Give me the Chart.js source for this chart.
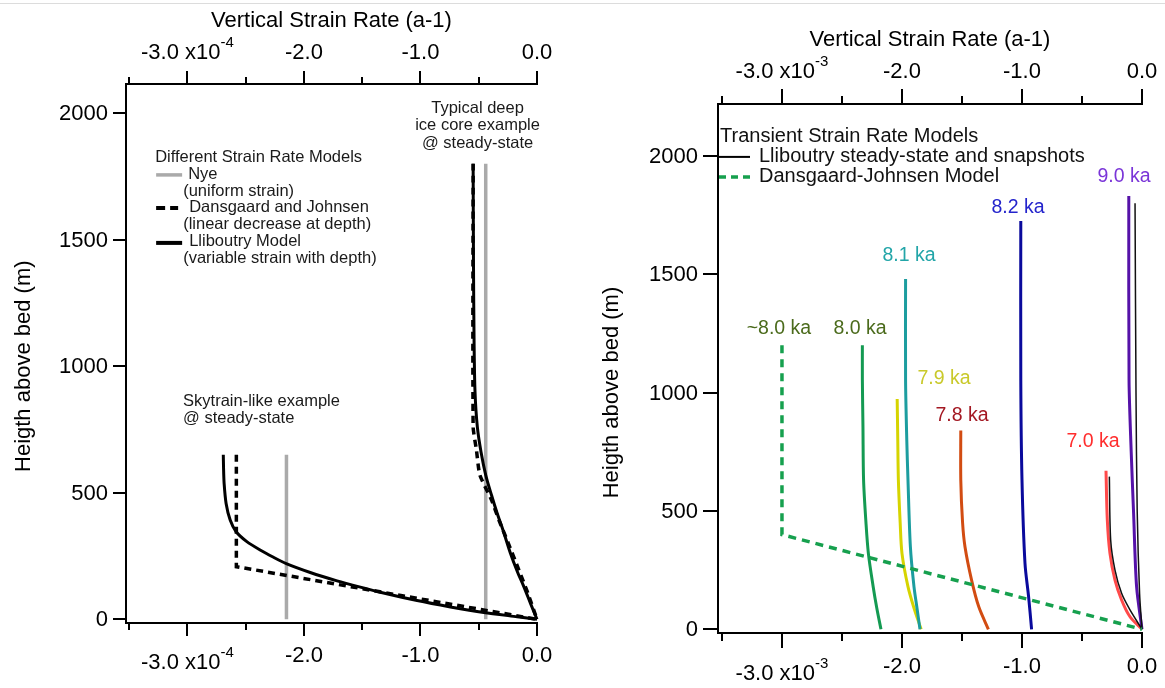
<!DOCTYPE html>
<html>
<head>
<meta charset="utf-8">
<script src="https://cdn.jsdelivr.net/npm/chart.js@4.4.0/dist/chart.umd.min.js"></script>
<style>
  html, body { margin: 0; padding: 0; background: #fff; }
  #wrap { position: relative; width: 1165px; height: 688px; overflow: hidden; }
  #topRule { position: absolute; left: 0; top: 3px; width: 1165px; height: 1px; background: #dcdcdc; }
  canvas { position: absolute; top: 0; }
  #leftChart { left: 0; }
  #rightChart { left: 580px; }
</style>
</head>
<body>
<div id="wrap">
  <div id="topRule"></div>
  <canvas id="leftChart" width="580" height="688"></canvas>
  <canvas id="rightChart" width="585" height="688"></canvas>
</div>
<script>
const FONT = "'Liberation Sans', Arial, Helvetica, sans-serif";

// ---- axes (shared) ----
const strainTicks = [-3.5, -3, -2.5, -2, -1.5, -1, -0.5, 0];
const strainTickLabels = ['', '-3.0', '', '-2.0', '', '-1.0', '', '0.0'];
const heightTicks = [0, 500, 1000, 1500, 2000];
const heightTickLabels = ['0', '500', '1000', '1500', '2000'];
const xTitle = 'Vertical Strain Rate (a-1)';
const yTitle = 'Heigth above bed (m)';

// ---- left panel: steady-state models (x10^-4 a-1) ----
const nyeSkyStrain = [-2.15, -2.15];
const nyeSkyHeight = [0, 650];
const nyeDeepStrain = [-0.44, -0.44];
const nyeDeepHeight = [0, 1800];

const djSkyStrain = [-2.58, -2.58, 0];
const djSkyHeight = [650, 208, 0];
const djDeepStrain = [-0.548, -0.548, -0.52, -0.49, -0.39, -0.325, -0.25, -0.16, -0.08, 0];
const djDeepHeight = [1800, 760, 670, 570, 471, 390, 305, 200, 105, 0];

const llibSkyStrain = [-2.692, -2.69, -2.685, -2.668, -2.633, -2.582, -2.49, -2.376, -2.261, -2.152, -1.946, -1.716, -1.516, -1.345, -1.029, -0.743, -0.457, -0.17, 0];
const llibSkyHeight = [650, 600, 537, 458, 392, 346, 307, 274, 245, 220, 185, 152, 127, 107, 74, 49, 27, 10, 0];
const llibDeepStrain = [-0.548, -0.545, -0.54, -0.532, -0.512, -0.48, -0.44, -0.39, -0.342, -0.29, -0.228, -0.17, -0.113, -0.055, 0];
const llibDeepHeight = [1800, 1400, 1100, 900, 760, 660, 570, 490, 419, 350, 261, 190, 129, 62, 0];

const leftLegendTitle = 'Different Strain Rate Models';
const leftLegendNames = ['Nye', 'Dansgaard and Johnsen', 'Lliboutry Model'];
const leftLegendNotes = ['(uniform strain)', '(linear decrease at depth)', '(variable strain with depth)'];
const deepNote = ['Typical deep', 'ice core example', '@ steady-state'];
const skyNote = ['Skytrain-like example', '@ steady-state'];

// ---- right panel: transient snapshots (x10^-3 a-1) ----
const djRightStrain = [-3.0, -3.0, 0];
const djRightHeight = [1200, 400, 0];

const steady90Strain = [-0.058, -0.05, -0.04, -0.02, 0];
const steady90Height = [1800, 1000, 500, 150, 0];
const snap90Strain = [-0.11, -0.108, -0.09, -0.07, -0.045, 0];
const snap90Height = [1830, 1053, 750, 490, 180, 0];
const snap82Strain = [-1.01, -1.01, -1.0, -0.975, -0.945, -0.92];
const snap82Height = [1725, 1053, 631, 279, 138, 0];
const snap81Strain = [-1.97, -1.97, -1.96, -1.95, -1.93, -1.90, -1.875, -1.85];
const snap81Height = [1480, 1053, 800, 631, 349, 180, 90, 0];
const snap80Strain = [-2.33, -2.33, -2.325, -2.32, -2.30, -2.28, -2.24, -2.21, -2.175];
const snap80Height = [1200, 1054, 850, 631, 450, 321, 180, 90, 0];
const snap79Strain = [-2.04, -2.035, -2.03, -2.015, -2.0, -1.95, -1.90, -1.84];
const snap79Height = [973, 800, 631, 450, 321, 180, 90, 0];
const snap78Strain = [-1.51, -1.51, -1.495, -1.475, -1.42, -1.36, -1.28];
const snap78Height = [840, 631, 450, 349, 208, 95, 0];
const snap70Strain = [-0.30, -0.289, -0.267, -0.225, -0.17, -0.10, 0];
const snap70Height = [670, 462, 321, 208, 124, 53, 0];
const steady70Strain = [-0.272, -0.261, -0.225, -0.17, -0.10, 0];
const steady70Height = [645, 377, 250, 152, 82, 0];

const snapLabels = ['9.0 ka', '8.2 ka', '8.1 ka', '~8.0 ka', '8.0 ka', '7.9 ka', '7.8 ka', '7.0 ka'];
const snapLabelStrain = [-0.15, -1.033, -1.942, -3.025, -2.35, -1.65, -1.50, -0.408];
const snapLabelHeight = [1911, 1780, 1577, 1269, 1269, 1057, 903, 791];
const snapLabelColors = ['#7a35d8', '#2424cc', '#22a5a8', '#4b6b1c', '#4b6b1c', '#c9c92a', '#a31822', '#ff2d2d'];

const rightLegendTitle = 'Transient Strain Rate Models';
const rightLegendNames = ['Lliboutry steady-state and snapshots', 'Dansgaard-Johnsen Model'];

const DJ_GREEN = '#16a04e';

function series(xs, ys, color, width, extra) {
  return Object.assign({
    data: xs.map((x, i) => ({ x: x, y: ys[i] })),
    borderColor: color,
    borderWidth: width,
    pointRadius: 0,
    showLine: true,
    fill: false,
    tension: 0,
    clip: false
  }, extra || {});
}

// Igor-style frame: top + bottom + left axis, major/minor ticks, tick labels with exponent
const igorAxes = {
  id: 'igorAxes',
  afterDraw(chart, args, o) {
    const ctx = chart.ctx, a = chart.chartArea;
    const xs = chart.scales.x, ys = chart.scales.y;
    ctx.save();
    ctx.strokeStyle = '#000';
    ctx.lineWidth = 2;
    ctx.lineCap = 'square';
    ctx.beginPath();
    ctx.moveTo(a.right, a.top); ctx.lineTo(a.left, a.top);
    ctx.lineTo(a.left, a.bottom); ctx.lineTo(a.right, a.bottom);
    ctx.stroke();

    ctx.lineCap = 'butt';
    ctx.beginPath();
    strainTicks.forEach((v, i) => {
      const px = Math.round(xs.getPixelForValue(v));
      const len = strainTickLabels[i] ? o.majorLen : o.minorLen;
      ctx.moveTo(px, a.top); ctx.lineTo(px, a.top - len);
      ctx.moveTo(px, a.bottom); ctx.lineTo(px, a.bottom + len);
    });
    heightTicks.forEach(v => {
      const py = Math.round(ys.getPixelForValue(v));
      ctx.moveTo(a.left, py); ctx.lineTo(a.left - o.majorLen, py);
    });
    ctx.stroke();

    ctx.fillStyle = '#000';
    ctx.textBaseline = 'middle';
    const tickFont = o.tickSize + 'px ' + FONT;
    const supFont = o.supSize + 'px ' + FONT;
    strainTicks.forEach((v, i) => {
      const lab = strainTickLabels[i];
      if (!lab) return;
      const px = xs.getPixelForValue(v);
      if (v === -3) {
        const main = lab + ' x10';
        ctx.font = tickFont; const wm = ctx.measureText(main).width;
        ctx.font = supFont; const ws = ctx.measureText(o.exponent).width;
        const x0 = px - (wm + ws) / 2;
        ctx.textAlign = 'left';
        [a.top - o.topGap, a.bottom + o.bottomGap + o.expDrop].forEach(y => {
          ctx.font = tickFont; ctx.fillText(main, x0, y);
          ctx.font = supFont; ctx.fillText(o.exponent, x0 + wm, y - o.supRise);
        });
      } else {
        ctx.font = tickFont;
        ctx.textAlign = 'center';
        ctx.fillText(lab, px, a.top - o.topGap);
        ctx.fillText(lab, px, a.bottom + o.bottomGap);
      }
    });
    ctx.font = tickFont;
    ctx.textAlign = 'right';
    heightTicks.forEach((v, i) => {
      ctx.fillText(heightTickLabels[i], a.left - o.majorLen - 5, ys.getPixelForValue(v) + 1);
    });

    ctx.font = o.titleSize + 'px ' + FONT;
    ctx.textAlign = 'center';
    ctx.fillText(xTitle, (a.left + a.right) / 2, a.top - o.titleGap);
    const yc = (ys.getPixelForValue(0) + ys.getPixelForValue(2000)) / 2;
    ctx.translate(o.yTitleX, yc);
    ctx.rotate(-Math.PI / 2);
    ctx.fillText(yTitle, 0, 0);
    ctx.restore();
  }
};

const leftNotes = {
  id: 'leftNotes',
  afterDraw(chart) {
    const ctx = chart.ctx, xs = chart.scales.x, ys = chart.scales.y;
    ctx.save();
    ctx.font = '16.5px ' + FONT;
    ctx.fillStyle = '#1a1a1a';
    ctx.textBaseline = 'middle';

    ctx.textAlign = 'center';
    const dx = xs.getPixelForValue(-0.51), dy = ys.getPixelForValue(2020);
    deepNote.forEach((t, i) => ctx.fillText(t, dx, dy + i * 17.5));

    ctx.textAlign = 'left';
    const sx = xs.getPixelForValue(-3.037), sy = ys.getPixelForValue(859);
    skyNote.forEach((t, i) => ctx.fillText(t, sx, sy + i * 16.5));

    // legend
    const lx = xs.getPixelForValue(-3.277), ly = ys.getPixelForValue(1823);
    ctx.fillText(leftLegendTitle, lx, ly);
    const rowY = [17, 50, 84];
    ctx.lineCap = 'butt';
    // Nye sample
    ctx.strokeStyle = '#aaaaaa'; ctx.lineWidth = 3.5;
    ctx.beginPath(); ctx.moveTo(lx + 1, ly + rowY[0]); ctx.lineTo(lx + 27, ly + rowY[0]); ctx.stroke();
    // DJ sample
    ctx.strokeStyle = '#000'; ctx.lineWidth = 4;
    ctx.beginPath();
    ctx.moveTo(lx + 1, ly + rowY[1]); ctx.lineTo(lx + 10, ly + rowY[1]);
    ctx.moveTo(lx + 15, ly + rowY[1]); ctx.lineTo(lx + 23, ly + rowY[1]);
    ctx.stroke();
    // Lliboutry sample
    ctx.beginPath(); ctx.moveTo(lx + 1, ly + rowY[2] + 1); ctx.lineTo(lx + 27, ly + rowY[2] + 1); ctx.stroke();
    const nameX = [33, 34, 34];
    leftLegendNames.forEach((t, i) => {
      ctx.fillText(t, lx + nameX[i], ly + rowY[i]);
      ctx.fillText(leftLegendNotes[i], lx + 28, ly + rowY[i] + 16.5);
    });
    ctx.restore();
  }
};

const rightNotes = {
  id: 'rightNotes',
  afterDraw(chart) {
    const ctx = chart.ctx, xs = chart.scales.x, ys = chart.scales.y, a = chart.chartArea;
    ctx.save();
    ctx.textBaseline = 'middle';
    ctx.textAlign = 'center';
    ctx.font = '19.5px ' + FONT;
    snapLabels.forEach((t, i) => {
      ctx.fillStyle = snapLabelColors[i];
      ctx.fillText(t, xs.getPixelForValue(snapLabelStrain[i]), ys.getPixelForValue(snapLabelHeight[i]));
    });

    ctx.font = '20px ' + FONT;
    ctx.fillStyle = '#111';
    ctx.textAlign = 'left';
    const ty = ys.getPixelForValue(2080);
    ctx.fillText(rightLegendTitle, a.left + 2, ty);
    ctx.lineCap = 'butt';
    ctx.strokeStyle = '#000'; ctx.lineWidth = 2;
    ctx.beginPath(); ctx.moveTo(a.left, ty + 20); ctx.lineTo(a.left + 32, ty + 20); ctx.stroke();
    ctx.strokeStyle = DJ_GREEN; ctx.lineWidth = 3.5; ctx.setLineDash([7, 5]);
    ctx.beginPath(); ctx.moveTo(a.left + 1, ty + 40); ctx.lineTo(a.left + 32, ty + 40); ctx.stroke();
    ctx.setLineDash([]);
    ctx.fillText(rightLegendNames[0], a.left + 41, ty + 20);
    ctx.fillText(rightLegendNames[1], a.left + 41, ty + 40);
    ctx.restore();
  }
};

function baseOptions(padding, xMin, yMin, yMax, axisOpts) {
  return {
    responsive: false,
    animation: false,
    events: [],
    layout: { padding: padding },
    plugins: { legend: { display: false }, tooltip: { enabled: false }, igorAxes: axisOpts },
    scales: {
      x: { type: 'linear', min: xMin, max: 0, display: false },
      y: { type: 'linear', min: yMin, max: yMax, display: false }
    }
  };
}

new Chart(document.getElementById('leftChart'), {
  type: 'scatter',
  data: {
    datasets: [
      series(llibDeepStrain, llibDeepHeight, '#000', 3, { tension: 0.3 }),
      series(llibSkyStrain, llibSkyHeight, '#000', 3, { tension: 0.25 }),
      series(djDeepStrain, djDeepHeight, '#000', 3.5, { borderDash: [7, 5], tension: 0.2 }),
      series(djSkyStrain, djSkyHeight, '#000', 3.5, { borderDash: [7, 5] }),
      series(nyeDeepStrain, nyeDeepHeight, '#aaaaaa', 3.5),
      series(nyeSkyStrain, nyeSkyHeight, '#aaaaaa', 3.5)
    ]
  },
  options: baseOptions({ left: 126, right: 43, top: 84, bottom: 65 }, -3.527, -14.6, 2115, {
    majorLen: 13, minorLen: 7, tickSize: 22, supSize: 15, exponent: '-4', supRise: 10,
    topGap: 31, bottomGap: 33, expDrop: 7, titleSize: 22, titleGap: 63, yTitleX: 24
  }),
  plugins: [igorAxes, leftNotes]
});

new Chart(document.getElementById('rightChart'), {
  type: 'scatter',
  data: {
    datasets: [
      series(djRightStrain, djRightHeight, DJ_GREEN, 3.5, { borderDash: [8, 6] }),
      series(steady90Strain, steady90Height, '#111', 1.5, { tension: 0.3 }),
      series(steady70Strain, steady70Height, '#111', 1.5, { tension: 0.3 }),
      series(snap90Strain, snap90Height, '#5512a8', 3, { tension: 0.3 }),
      series(snap82Strain, snap82Height, '#0a0a9c', 3, { tension: 0.3 }),
      series(snap81Strain, snap81Height, '#1c9d9f', 3, { tension: 0.3 }),
      series(snap80Strain, snap80Height, '#149a52', 3, { tension: 0.3 }),
      series(snap79Strain, snap79Height, '#d6d400', 3, { tension: 0.3 }),
      series(snap78Strain, snap78Height, '#d24c12', 3, { tension: 0.3 }),
      series(snap70Strain, snap70Height, '#ff4a4a', 3, { tension: 0.3 })
    ]
  },
  options: baseOptions({ left: 138, right: 23, top: 104, bottom: 55 }, -3.533, -15.6, 2219, {
    majorLen: 15, minorLen: 8, tickSize: 22, supSize: 15, exponent: '-3', supRise: 10,
    topGap: 32, bottomGap: 34, expDrop: 7, titleSize: 22, titleGap: 64, yTitleX: 32
  }),
  plugins: [igorAxes, rightNotes]
});
</script>
</body>
</html>
